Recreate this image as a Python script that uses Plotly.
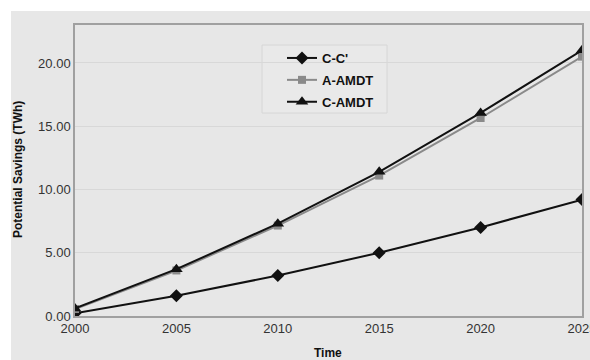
import plotly.graph_objects as go

years = [2000, 2005, 2010, 2015, 2020, 2025]
cc = [0.22, 1.6, 3.2, 5.0, 7.0, 9.2]
a_amdt = [0.55, 3.6, 7.15, 11.1, 15.65, 20.5]
c_amdt = [0.6, 3.7, 7.3, 11.4, 16.05, 21.0]
y_ticks = [0, 5, 10, 15, 20]
y_tick_text = ["0.00", "5.00", "10.00", "15.00", "20.00"]

fig = go.Figure()
fig.add_trace(go.Scatter(x=years, y=cc, name="<b>C-C'</b>", mode="lines+markers",
                         legendgroup="g1",
                         line=dict(color="#111111", width=2),
                         marker=dict(symbol="diamond", size=10, color="#111111")))
fig.add_trace(go.Scatter(x=years, y=a_amdt, name="<b>A-AMDT</b>", mode="lines+markers",
                         legendgroup="g2",
                         line=dict(color="#8a8a8a", width=2),
                         marker=dict(symbol="square", size=8, color="#8a8a8a")))
fig.add_trace(go.Scatter(x=years, y=c_amdt, name="<b>C-AMDT</b>", mode="lines+markers",
                         legendgroup="g3",
                         line=dict(color="#111111", width=2),
                         marker=dict(symbol="triangle-up", size=11, color="#111111")))

W, H = 590, 360
pl, pr, pt, pb = 75, 582, 25, 316
pw, ph = pr - pl, pb - pt


def px(xp):
    return (xp - pl) / pw


def py(yp):
    return (pb - yp) / ph


fig.add_shape(type="rect", xref="paper", yref="paper",
              x0=px(11), x1=px(620), y0=py(400), y1=py(11),
              fillcolor="#e7e7e7", line=dict(width=0), layer="below")
fig.add_shape(type="rect", xref="paper", yref="paper",
              x0=px(262), x1=px(387), y0=py(113), y1=py(45),
              fillcolor="#e9e9e9", line=dict(width=1, color="#d6d6d6"), layer="between")

fig.add_annotation(text="<b>Time</b>", xref="paper", yref="paper",
                   x=px(328), y=py(353), xanchor="center", yanchor="middle",
                   showarrow=False, font=dict(size=12, color="#111111"))
fig.add_annotation(text="<b>Potential Savings (TWh)</b>", xref="paper", yref="paper",
                   x=px(18), y=py(170), xanchor="center", yanchor="middle",
                   textangle=-90, showarrow=False, font=dict(size=12, color="#111111"))

fig.update_layout(
    width=W, height=H,
    margin=dict(l=pl, r=W - pr, t=pt, b=H - pb, autoexpand=False),
    paper_bgcolor="white", plot_bgcolor="#e7e7e7",
    font=dict(family="Liberation Sans, Arial, sans-serif", size=12, color="#333333"),
    showlegend=True,
    legend=dict(x=px(282), y=py(43), xanchor="left", yanchor="top",
                bgcolor="rgba(0,0,0,0)", borderwidth=0,
                font=dict(size=13, color="#111111", family="Liberation Sans, Arial, sans-serif"),
                tracegroupgap=2),
)

fig.update_xaxes(range=[2000, 2025], tickvals=years, showgrid=False, zeroline=False,
                 showline=True, linecolor="#a0a0a0", linewidth=1.5, mirror=True,
                 ticks="", ticklabeloverflow="allow", automargin=False,
                 tickfont=dict(size=13, color="#333333"))
fig.update_yaxes(range=[0, 23], tickvals=y_ticks, ticktext=y_tick_text,
                 showgrid=True, gridcolor="#d8d8d8", gridwidth=1, zeroline=False,
                 showline=True, linecolor="#a0a0a0", linewidth=1.5, mirror=True,
                 ticks="", automargin=False, tickfont=dict(size=13, color="#333333"))

fig.write_html("out.html", config={"displayModeBar": False},
               post_script="document.body.style.margin='0';")
